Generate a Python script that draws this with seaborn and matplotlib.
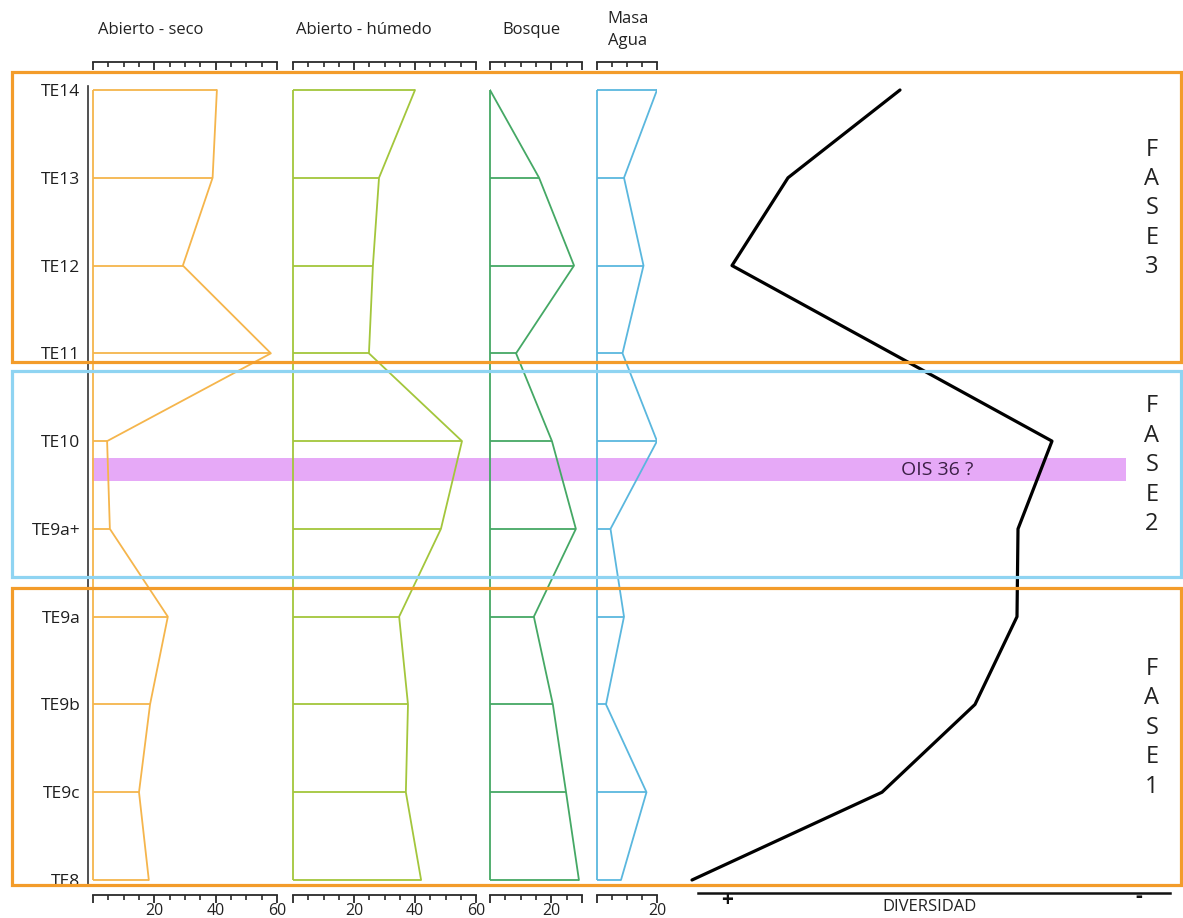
import numpy as np
import pandas as pd
import matplotlib
matplotlib.use("Agg")
import matplotlib.pyplot as plt
from matplotlib.patches import Rectangle
import seaborn as sns

# niveles del perfil (de arriba abajo)
niveles = ["TE14", "TE13", "TE12", "TE11", "TE10", "TE9a+", "TE9a", "TE9b", "TE9c", "TE8"]
posicion = [9, 8, 7, 6, 5, 4, 3, 2, 1, 0]

# % por tipo de habitat
abierto_seco = [40.4, 39, 29.3, 58, 4.6, 5.5, 24.4, 18.6, 15, 18.2]
abierto_humedo = [40, 28.2, 26.2, 24.9, 55.4, 48.5, 34.8, 37.7, 37, 42]
bosque = [0, 16, 27.4, 8.5, 20.2, 28, 14.3, 20.5, 24.8, 29]
masa_agua = [20, 9, 15.5, 8.5, 20, 4.5, 9, 3, 16.5, 8]

# diversidad (escala relativa, + a la izquierda)
div_niveles = ["TE14", "TE13", "TE12", "TE10", "TE9a+", "TE9a", "TE9b", "TE9c", "TE8"]
div_posicion = [9, 8, 7, 5, 4, 3, 2, 1, 0]
diversidad = [44.0, 21.6, 10.4, 74.4, 67.6, 67.4, 59.0, 40.4, 2.4]

# fases (limites en unidades de nivel)
fases = ["FASE\n3", "FASE\n2", "FASE\n1"]
fase_lim = [(5.90, 9.20), (3.45, 5.80), (-0.06, 3.33)]
fase_color = ["#f39c2a", "#8fd4f2", "#f39c2a"]
ois_lim = (4.54, 4.81)

sns.set_theme(style="white")
plt.rcParams["font.family"] = ["Open Sans", "DejaVu Sans"]

W, H = 1183, 918
fig = plt.figure(figsize=(W / 100, H / 100), dpi=100)

def fx(px):
    return px / W

def fy(py):
    return 1 - py / H

# mapping vertical: TE14 -> 90 px, TE8 -> 880 px
ppu = (880 - 90) / 9
ylo, yhi = -0.05, 9.05
ytop_px = 90 - (yhi - 9) * ppu
ybot_px = 880 + (0 - ylo) * ppu

def add_ax(x0, x1, zorder=1):
    ax = fig.add_axes([fx(x0), fy(ybot_px), fx(x1) - fx(x0), fy(ytop_px) - fy(ybot_px)])
    ax.set_zorder(zorder)
    ax.patch.set_visible(False)
    ax.set_ylim(ylo, yhi)
    return ax

# fondo: banda OIS 36
axb = add_ax(0, W, zorder=0)
axb.set_xlim(0, W)
axb.axis("off")
axb.add_patch(Rectangle((92, ois_lim[0]), 1126 - 92, ois_lim[1] - ois_lim[0],
                        color="#e6a9f7", lw=0))
axb.text(937, sum(ois_lim) / 2, "OIS 36 ?", ha="center", va="center",
         fontsize=14, color="#3b1f45")

tick_c = "#2a2a2a"

def perfil(x0, x1, valores, color, xmax, labels):
    ax = add_ax(x0, x1, zorder=2)
    df = pd.DataFrame({"nivel": niveles, "pos": posicion, "valor": valores})
    sns.lineplot(data=df, x="valor", y="pos", orient="y", sort=False,
                 color=color, lw=1.3, ax=ax)
    ax.hlines(df["pos"], 0, df["valor"], color=color, lw=1.3)
    ax.vlines(0, min(posicion), max(posicion), color=color, lw=1.3, clip_on=False)
    ax.set_xlim(0, xmax)
    ax.set_ylim(ylo, yhi)
    ax.set_xlabel("")
    ax.set_ylabel("")
    for s in ["left", "right", "top"]:
        ax.spines[s].set_visible(False)
    ax.spines["bottom"].set_position(("outward", 7.5))
    ax.spines["bottom"].set_color(tick_c)
    ax.spines["bottom"].set_linewidth(1.3)
    majors = [t for t in range(0, xmax + 1, 20)]
    if xmax not in majors:
        majors.append(xmax)
    ax.set_xticks(majors)
    ax.set_xticks(np.arange(0, xmax + 1, 5), minor=True)
    ax.set_xticklabels(labels)
    ax.set_yticks([])
    ax.tick_params(axis="x", which="major", direction="out", length=6, width=1.3,
                   color=tick_c, pad=0, labelsize=11.5, labelcolor="#222222",
                   bottom=True)
    ax.tick_params(axis="x", which="minor", direction="out", length=3.8, width=1.2,
                   color=tick_c, bottom=True)
    # regla superior
    ax2 = ax.twiny()
    ax2.set_xlim(0, xmax)
    for s in ["left", "right", "bottom"]:
        ax2.spines[s].set_visible(False)
    ax2.spines["top"].set_position(("outward", 17))
    ax2.spines["top"].set_color(tick_c)
    ax2.spines["top"].set_linewidth(1.3)
    ax2.set_xticks(majors)
    ax2.set_xticks(np.arange(0, xmax + 1, 5), minor=True)
    ax2.set_xticklabels([])
    ax2.tick_params(axis="x", which="major", direction="in", length=6, width=1.3,
                    color=tick_c, top=True)
    ax2.tick_params(axis="x", which="minor", direction="in", length=3.8, width=1.2,
                    color=tick_c, top=True)
    return ax

ax_seco = perfil(93, 277, abierto_seco, "#f5b54c", 60, ["", "20", "40", "60"])
perfil(293, 476, abierto_humedo, "#a3c63c", 60, ["", "20", "40", "60"])
perfil(490, 582, bosque, "#45a865", 30, ["", "20", ""])
perfil(597, 657, masa_agua, "#5ab7de", 20, ["", "20"])

# eje de niveles
ax_seco.spines["left"].set_visible(True)
ax_seco.spines["left"].set_position(("outward", 3.6))
ax_seco.spines["left"].set_color("#333333")
ax_seco.spines["left"].set_linewidth(1.2)
ax_seco.set_yticks(posicion)
ax_seco.set_yticklabels(niveles)
ax_seco.tick_params(axis="y", length=0, pad=5.5, labelsize=12.5, labelcolor="#1e1e1e", left=True)

# diversidad
axd = add_ax(680, W, zorder=2)
dfd = pd.DataFrame({"nivel": div_niveles, "pos": div_posicion, "valor": diversidad})
sns.lineplot(data=dfd, x="valor", y="pos", orient="y", sort=False,
             color="black", lw=2.3, ax=axd)
axd.set_xlim(0, (W - 680) / 5)
axd.set_ylim(ylo, yhi)
axd.set_xlabel("")
axd.set_ylabel("")
axd.set_xticks([])
axd.set_yticks([])
for s in ["left", "right", "top"]:
    axd.spines[s].set_visible(False)
axd.spines["bottom"].set_position(("outward", 6))
axd.spines["bottom"].set_bounds(3.6, 98)
axd.spines["bottom"].set_color("#111111")
axd.spines["bottom"].set_linewidth(1.8)

# cajas de fase
axf = add_ax(0, W, zorder=3)
axf.set_xlim(0, W)
axf.axis("off")
for lab, (a, b), c in zip(fases, fase_lim, fase_color):
    axf.add_patch(Rectangle((12, a), 1181 - 12, b - a, fill=False, ec=c, lw=2.3,
                            clip_on=False))
    axf.text(1152, (a + b) / 2 + 0.1, "\n".join(lab.replace("\n", "")), ha="center",
             va="center", fontsize=17, linespacing=1.3, color="#222222")

# titulos
tit_kw = dict(ha="center", va="center", fontsize=12, color="#222222")
fig.text(fx(151), fy(30), "Abierto - seco", **tit_kw)
fig.text(fx(364), fy(30), "Abierto - húmedo", **tit_kw)
fig.text(fx(531), fy(30), "Bosque", **tit_kw)
fig.text(fx(628), fy(30), "Masa\nAgua", linespacing=1.45, **tit_kw)

fig.text(fx(727), fy(900), "+", ha="center", va="center", fontsize=15,
         fontweight="bold", color="#111111")
fig.text(fx(1139), fy(897), "-", ha="center", va="center", fontsize=15,
         fontweight="bold", color="#111111")
fig.text(fx(930), fy(907), "DIVERSIDAD", ha="center", va="center", fontsize=12,
         color="#222222")

fig.savefig("out.png", dpi=100)
